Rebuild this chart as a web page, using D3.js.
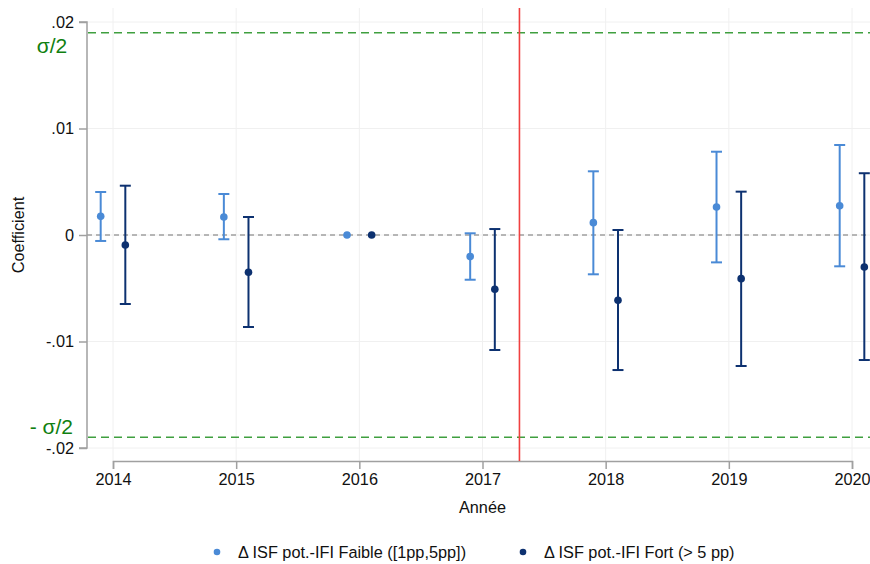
<!DOCTYPE html>
<html><head><meta charset="utf-8">
<script src="https://cdn.jsdelivr.net/npm/d3@7"></script>
<style>body{margin:0;background:#fff;} svg{display:block;font-family:"Liberation Sans",Arial,sans-serif;}</style>
</head><body>
<svg id="c" width="870" height="564"></svg>
<script>
const years = [2014, 2015, 2016, 2017, 2018, 2019, 2020];
const faibleCoef = [0.00175, 0.00169, 0, -0.00203, 0.00116, 0.00263, 0.00275];
const faibleHi   = [0.00404, 0.00385, null, 0.00016, 0.00598, 0.00782, 0.00845];
const faibleLo   = [-0.00056, -0.00040, null, -0.00420, -0.00369, -0.00257, -0.00294];
const fortCoef = [-0.00094, -0.00350, 0, -0.00510, -0.00613, -0.00410, -0.00300];
const fortHi   = [0.00463, 0.00169, null, 0.00056, 0.00047, 0.00407, 0.00580];
const fortLo   = [-0.00648, -0.00864, null, -0.01080, -0.01268, -0.01230, -0.01174];
const yTicks = [0.02, 0.01, 0, -0.01, -0.02];
const yTickLabels = [".02", ".01", "0", "-.01", "-.02"];
const sigmaHalf = 0.019;
const reformYear = 2017.3;
const offset = 0.1;
const seriesNames = ["\u0394 ISF pot.-IFI Faible ([1pp,5pp])", "\u0394 ISF pot.-IFI Fort (> 5 pp)"];
const colors = ["#4a8ad6", "#0d3170"];

const svg = d3.select("#c");
const x = d3.scaleLinear().domain([2014, 2020]).range([113, 852]);
const y = d3.scaleLinear().domain([-0.02, 0.02]).range([448, 22]);
const plotLeft = 87, plotRight = 880, plotTop = 8, plotBottom = 461;
const FS = 16.3;

// gridlines
svg.append("g").selectAll("line").data(years).join("line")
  .attr("x1", d => x(d)).attr("x2", d => x(d)).attr("y1", plotTop).attr("y2", plotBottom)
  .attr("stroke", "#f0f0f0").attr("stroke-width", 1);
svg.append("g").selectAll("line").data(yTicks).join("line")
  .attr("x1", plotLeft).attr("x2", plotRight).attr("y1", d => y(d)).attr("y2", d => y(d))
  .attr("stroke", "#f0f0f0").attr("stroke-width", 1);

// y axis
const yAxis = d3.axisLeft(y).tickValues(yTicks).tickFormat((d, i) => yTickLabels[i]).tickSize(8).tickPadding(5);
const gy = svg.append("g").attr("transform", `translate(${plotLeft},0)`).call(yAxis);
gy.select(".domain").attr("stroke", "#a0a0a0").attr("stroke-width", 1.5).attr("d", `M-8,${y(0.02)}H0V${y(-0.02)}H-8`);
gy.selectAll(".tick line").attr("stroke", "#a0a0a0").attr("stroke-width", 1.5);
gy.selectAll(".tick text").attr("font-size", FS).attr("fill", "#111").attr("font-family", "Liberation Sans, Arial, sans-serif");

// x axis
const xAxis = d3.axisBottom(x).tickValues(years).tickFormat(d3.format("d")).tickSize(8).tickPadding(4);
const gx = svg.append("g").attr("transform", `translate(0,${plotBottom})`).call(xAxis);
gx.select(".domain").attr("stroke", "#a0a0a0").attr("stroke-width", 1.5);
gx.selectAll(".tick line").attr("stroke", "#a0a0a0").attr("stroke-width", 1.5);
gx.selectAll(".tick text").attr("font-size", FS).attr("fill", "#111").attr("font-family", "Liberation Sans, Arial, sans-serif");

// zero line
svg.append("line").attr("x1", plotLeft).attr("x2", plotRight).attr("y1", y(0)).attr("y2", y(0))
  .attr("stroke", "#a0a0a0").attr("stroke-width", 1.5).attr("stroke-dasharray", "5,4");

// sigma lines
[sigmaHalf, -sigmaHalf].forEach(v => {
  svg.append("line").attr("x1", plotLeft + 1).attr("x2", plotRight).attr("y1", y(v)).attr("y2", y(v))
    .attr("stroke", "#3f9f3f").attr("stroke-width", 1.5).attr("stroke-dasharray", "8,5");
});
svg.append("text").attr("x", 52).attr("y", y(sigmaHalf) + 20).attr("text-anchor", "middle")
  .attr("font-size", 21).attr("fill", "#108010").text("\u03C3/2");
svg.append("text").attr("x", 73).attr("y", y(-sigmaHalf) - 3).attr("text-anchor", "end")
  .attr("font-size", 21).attr("fill", "#108010").text("- \u03C3/2");

// reform line
svg.append("line").attr("x1", x(reformYear)).attr("x2", x(reformYear)).attr("y1", plotTop).attr("y2", plotBottom)
  .attr("stroke", "#f04040").attr("stroke-width", 1.6);

// series
const series = [
  {coef: faibleCoef, hi: faibleHi, lo: faibleLo, dx: -offset, color: colors[0]},
  {coef: fortCoef, hi: fortHi, lo: fortLo, dx: offset, color: colors[1]}
];
series.forEach(s => {
  const g = svg.append("g");
  const data = years.map((yr, i) => ({yr, c: s.coef[i], hi: s.hi[i], lo: s.lo[i]}));
  const ci = data.filter(d => d.hi !== null);
  g.selectAll(".ci").data(ci).join("line")
    .attr("x1", d => x(d.yr + s.dx)).attr("x2", d => x(d.yr + s.dx))
    .attr("y1", d => y(d.hi)).attr("y2", d => y(d.lo))
    .attr("stroke", s.color).attr("stroke-width", 2);
  ["hi", "lo"].forEach(k => {
    g.selectAll(".cap" + k).data(ci).join("line")
      .attr("x1", d => x(d.yr + s.dx) - 5.5).attr("x2", d => x(d.yr + s.dx) + 5.5)
      .attr("y1", d => y(d[k])).attr("y2", d => y(d[k]))
      .attr("stroke", s.color).attr("stroke-width", 2);
  });
  g.selectAll("circle").data(data).join("circle")
    .attr("cx", d => x(d.yr + s.dx)).attr("cy", d => y(d.c)).attr("r", 3.8)
    .attr("fill", s.color);
});

// axis titles
svg.append("text").attr("x", x(2017)).attr("y", 513).attr("text-anchor", "middle")
  .attr("font-size", FS).attr("fill", "#111").text("Ann\u00e9e");
svg.append("text").attr("transform", `translate(24,${y(0)}) rotate(-90)`).attr("text-anchor", "middle")
  .attr("font-size", FS).attr("fill", "#111").text("Coefficient");

// legend
const legX = [217, 523];
seriesNames.forEach((n, i) => {
  svg.append("circle").attr("cx", legX[i]).attr("cy", 552).attr("r", 3.3).attr("fill", colors[i]);
  svg.append("text").attr("x", legX[i] + 21).attr("y", 558).attr("font-size", FS).attr("fill", "#111").text(n);
});
</script>
</body></html>
